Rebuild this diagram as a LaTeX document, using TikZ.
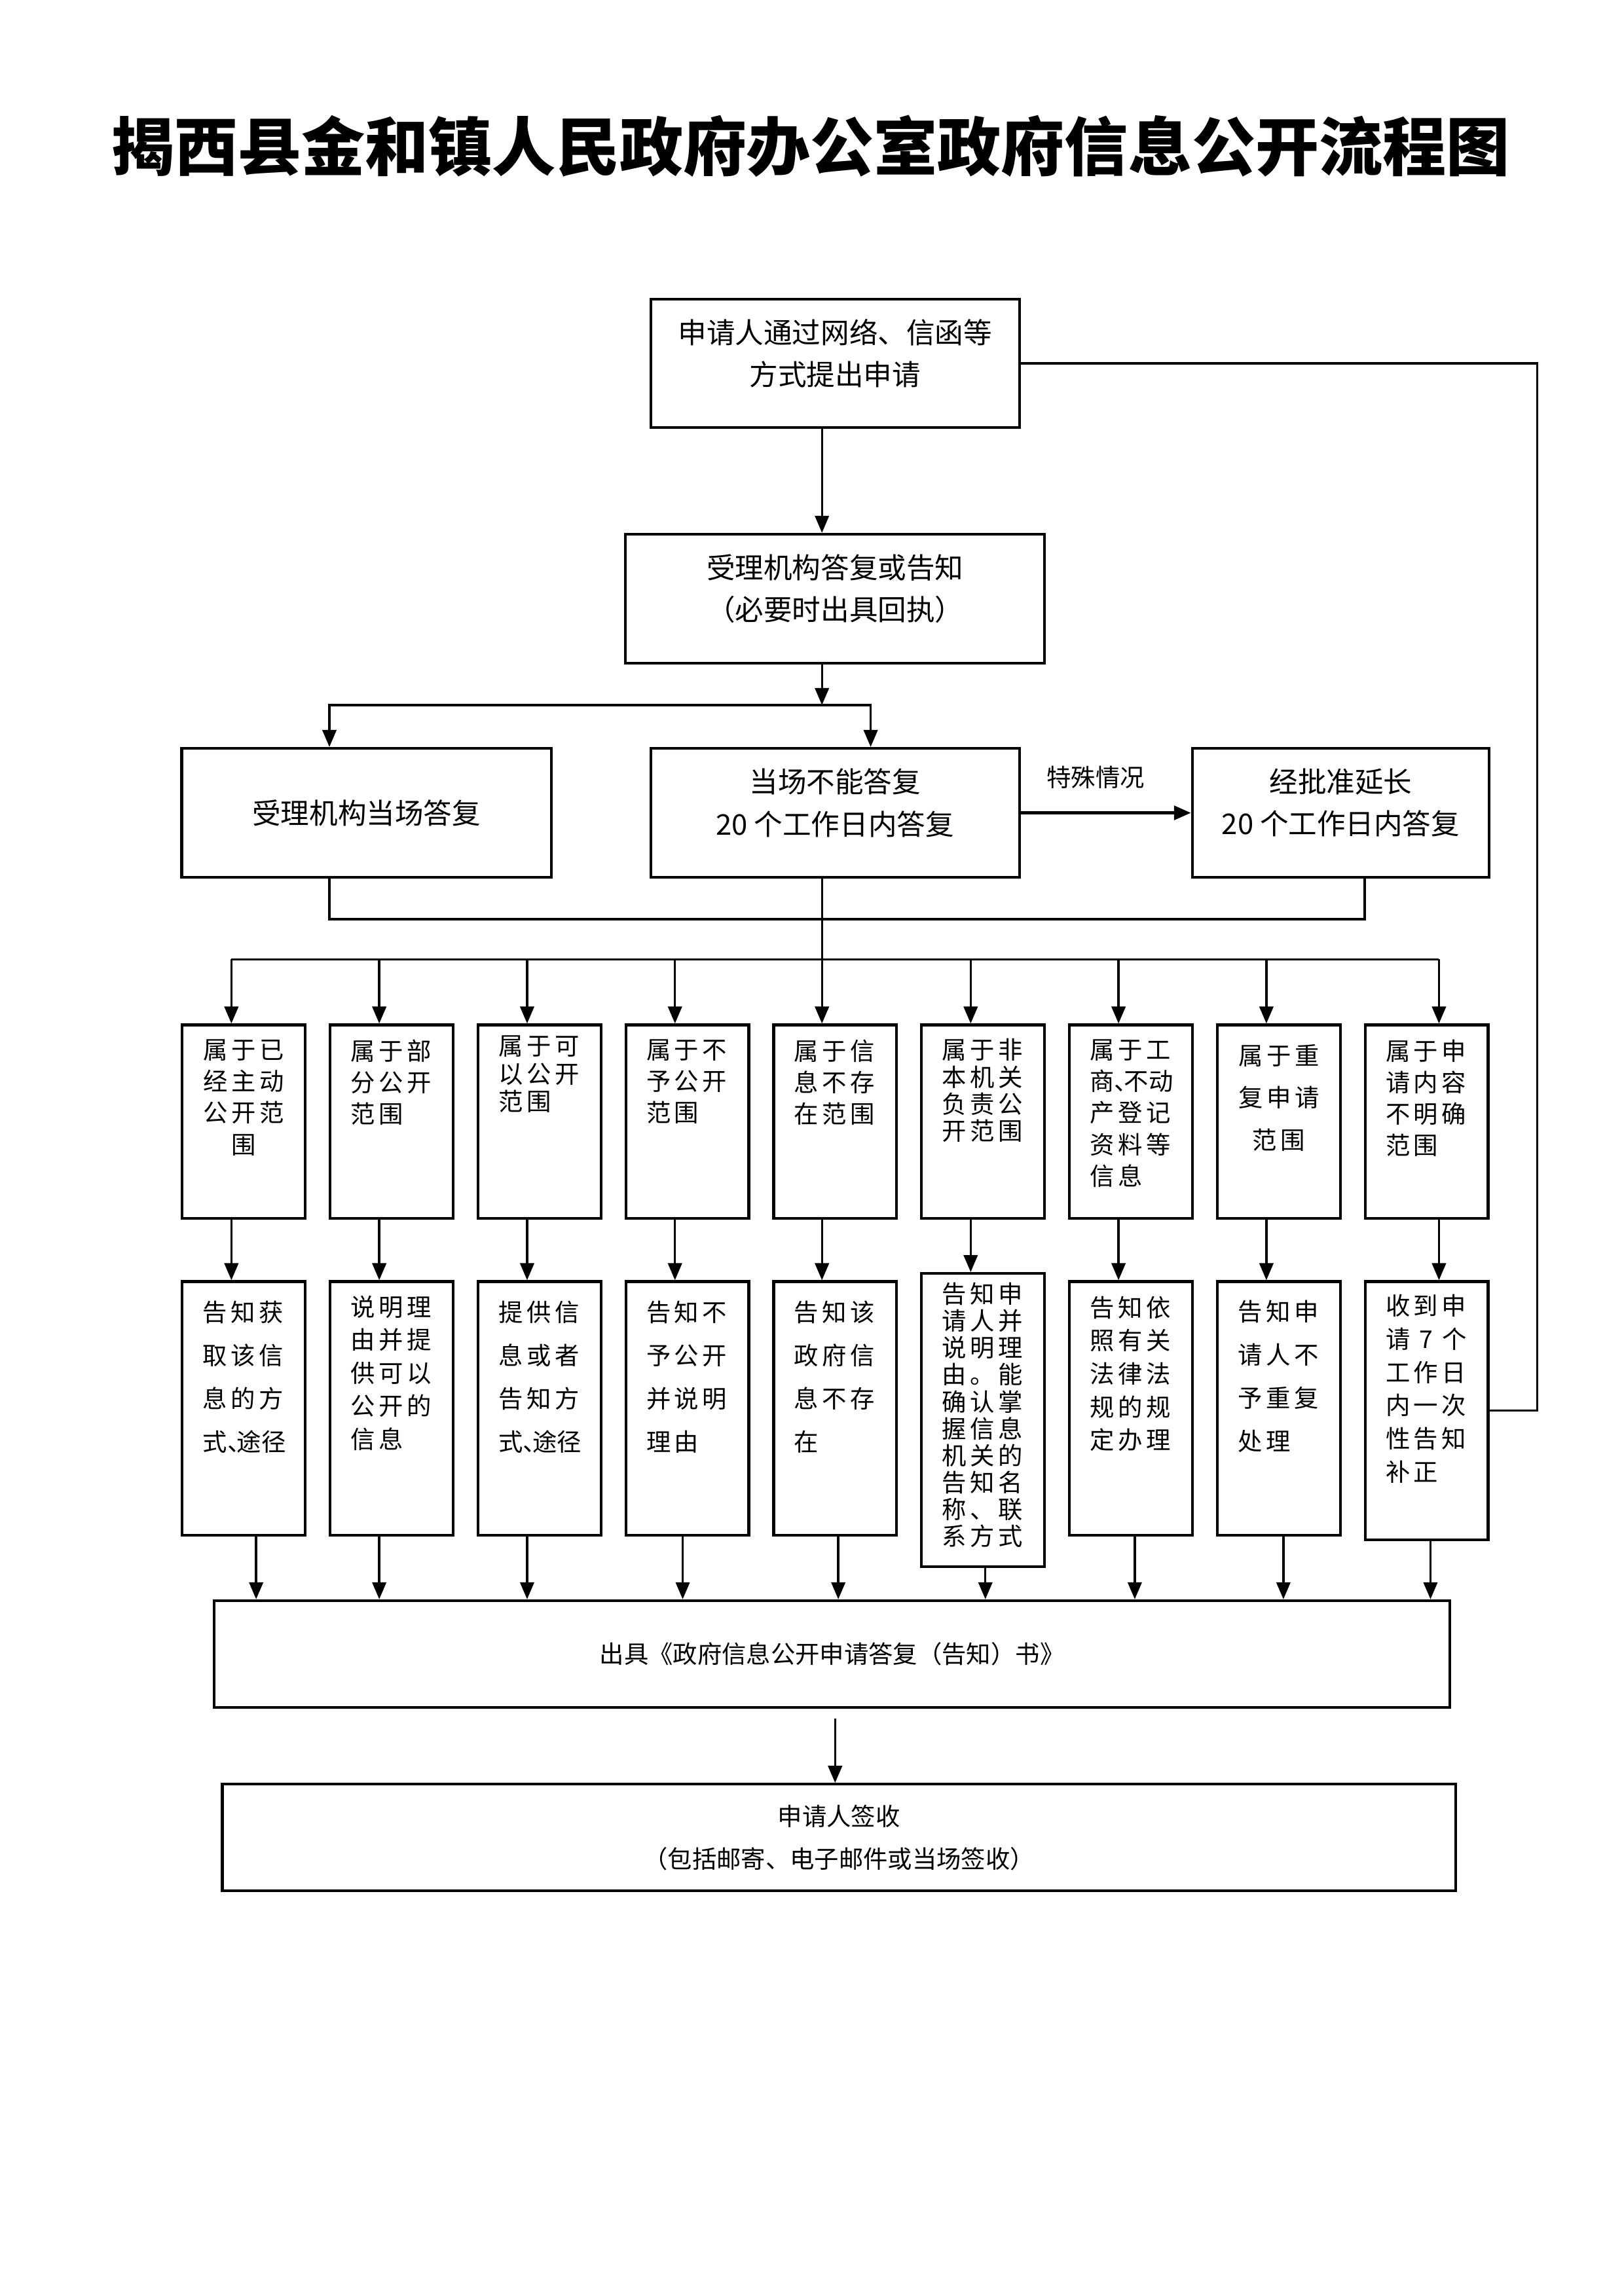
\documentclass[tikz,border=0pt]{standalone}
\usepackage{fontspec}
\setmainfont{Noto Sans CJK SC}
\newfontfamily\wide[LetterSpace=15]{Noto Sans CJK SC}
\usetikzlibrary{positioning,arrows.meta}

% column text: height, top gap, line pitch, lines
\newcommand{\coltxt}[4]{\parbox[c][#1][t]{10.6mm}{\wide\fontsize{9pt}{#3}\selectfont\vspace*{#2}#4}}
\newcommand{\dun}{\makebox[0.4em][l]{、}}
\newcommand{\lift}{\rule[-2.9mm]{0pt}{0pt}}

\tikzset{
    flowbox/.style={draw, line width=1pt, align=center, inner sep=0pt,
        font=\fontsize{10.5pt}{15.5pt}\selectfont},
    colbox/.style={draw, line width=1pt, inner sep=0pt, minimum width=15.9mm},
    arr/.style={-{Triangle[length=2.2mm,width=1.8mm]}, line width=0.8pt}
}

\begin{document}
\begin{tikzpicture}[x=1mm,y=1mm]
    \useasboundingbox (0,0) rectangle (210,297);

    % title
    \node[font=\bfseries\fontsize{23.4pt}{28pt}\selectfont] (title) at (104.8,278.1)
        {揭西县金和镇人民政府办公室政府信息公开流程图};

    % application
    \node[flowbox,
        minimum width=47.7mm,
        minimum height=16.6mm
    ] (apply) at (108,250) {申请人通过网络、信函等\\方式提出申请\lift};

    % acceptance
    \node[flowbox,
        minimum width=54.2mm,
        minimum height=16.7mm
    ] (accept) at (108,219.55) {受理机构答复或告知\\（必要时出具回执）\lift};

    % third row
    \node[flowbox,
        minimum width=47.8mm,
        minimum height=16.7mm
    ] (onsite) at (47.4,191.85) {受理机构当场答复};

    \node[flowbox,
        minimum width=47.7mm,
        minimum height=16.7mm
    ] (later) at (108,191.85) {当场不能答复\\20 个工作日内答复\lift};

    \node[flowbox,
        minimum width=38.4mm,
        minimum height=16.7mm
    ] (extend) at (173.4,191.85) {经批准延长\\20 个工作日内答复\lift};

    % categories
    \node[colbox, anchor=north west] (c1) at (23.4,164.6)
        {\coltxt{25mm}{1.9mm}{11.6pt}{\centering 属于已\\经主动\\公开范\\围}};
    \node[colbox, right=2.87mm of c1] (c2)
        {\coltxt{25mm}{1.9mm}{11.6pt}{属于部\\分公开\\范围}};
    \node[colbox, right=2.87mm of c2] (c3)
        {\coltxt{25mm}{1.4mm}{10.2pt}{属于可\\以公开\\范围}};
    \node[colbox, right=2.87mm of c3] (c4)
        {\coltxt{25mm}{1.9mm}{11.6pt}{属于不\\予公开\\范围}};
    \node[colbox, right=2.87mm of c4] (c5)
        {\coltxt{25mm}{1.9mm}{11.6pt}{属于信\\息不存\\在范围}};
    \node[colbox, right=2.87mm of c5] (c6)
        {\coltxt{25mm}{1.8mm}{9.9pt}{属于非\\本机关\\负责公\\开范围}};
    \node[colbox, right=2.87mm of c6] (c7)
        {\coltxt{25mm}{1.9mm}{11.6pt}{属于工\\{\rmfamily 商\dun 不动}\\产登记\\资料等\\信息}};
    \node[colbox, right=2.87mm of c7] (c8)
        {\coltxt{25mm}{2.5mm}{15.6pt}{\centering 属于重\\复申请\\范围}};
    \node[colbox, right=2.87mm of c8] (c9)
        {\coltxt{25mm}{1.9mm}{11.6pt}{属于申\\请内容\\不明确\\范围}};

    % replies
    \node[colbox, below=7.85mm of c1] (t1)
        {\coltxt{32.8mm}{2.5mm}{15.9pt}{告知获\\取该信\\息的方\\{\rmfamily 式\dun 途径}}};
    \node[colbox, below=7.85mm of c2] (t2)
        {\coltxt{32.8mm}{1.8mm}{12.2pt}{说明理\\由并提\\供可以\\公开的\\信息}};
    \node[colbox, below=7.85mm of c3] (t3)
        {\coltxt{32.8mm}{2.5mm}{15.9pt}{提供信\\息或者\\告知方\\{\rmfamily 式\dun 途径}}};
    \node[colbox, below=7.85mm of c4] (t4)
        {\coltxt{32.8mm}{2.5mm}{15.9pt}{告知不\\予公开\\并说明\\理由}};
    \node[colbox, below=7.85mm of c5] (t5)
        {\coltxt{32.8mm}{2.5mm}{15.9pt}{告知该\\政府信\\息不存\\在}};
    \node[colbox, below=6.8mm of c6] (t6)
        {\coltxt{37.9mm}{1.2mm}{9.9pt}{告知申\\请人并\\说明理\\由。能\\确认掌\\握信息\\机关的\\告知名\\称、联\\系方式}};
    \node[colbox, below=7.85mm of c7] (t7)
        {\coltxt{32.8mm}{1.9mm}{12.2pt}{告知依\\照有关\\法律法\\规的规\\定办理}};
    \node[colbox, below=7.85mm of c8] (t8)
        {\coltxt{32.8mm}{2.4mm}{15.9pt}{告知申\\请人不\\予重复\\处理}};
    \node[colbox, below=7.85mm of c9] (t9)
        {\coltxt{33.4mm}{1.7mm}{12.2pt}{收到申\\请 7 个\\工作日\\内一次\\性告知\\补正}};

    % notice
    \node[flowbox,
        font=\fontsize{9pt}{11pt}\selectfont,
        minimum width=159.8mm,
        minimum height=13.8mm
    ] (done) at (107.6,83.05) {出具《政府信息公开申请答复（告知）书》};

    % signature
    \node[flowbox,
        font=\fontsize{9pt}{15.7pt}\selectfont,
        minimum width=159.5mm,
        minimum height=13.8mm
    ] (sign) at (108.5,59.3) {申请人签收\\（包括邮寄、电子邮件或当场签收）};

    \coordinate (axis) at (106.3,0);
    \coordinate (split) at (106.3,205.8);
    \coordinate (gather) at (106.3,178.1);
    \coordinate (spread) at (106.3,172.9);
    \coordinate (back) at (198.8,0);

    % upper arrows
    \draw[arr] (apply.south -| axis) -- (accept.north -| axis);
    \draw[arr] (accept.south -| axis) -- (split);
    \draw[arr] (split) -| ([xshift=-4.8mm]onsite.north);
    \draw[arr] (split) -| ([xshift=4.6mm]later.north);

    \draw[arr, line width=1.2pt] (later.east) -- (extend.west)
        node[pos=0.44, yshift=4.6mm, font=\fontsize{9pt}{11pt}\selectfont] (special) {特殊情况};

    \draw[line width=0.8pt] ([xshift=-4.8mm]onsite.south) |- (gather)
        -| ([xshift=3.1mm]extend.south);
    \draw[arr] (later.south -| axis) -- (c5.north -| axis);
    \draw[line width=0.8pt] ([xshift=-1.6mm]c1.north |- spread)
        -- ([xshift=1.6mm]c9.north |- spread);

    % into the categories
    \draw[arr] ([xshift=-1.6mm]c1.north |- spread) -- ([xshift=-1.6mm]c1.north);
    \draw[arr] ([xshift=-1.6mm]c2.north |- spread) -- ([xshift=-1.6mm]c2.north);
    \draw[arr] ([xshift=-1.6mm]c3.north |- spread) -- ([xshift=-1.6mm]c3.north);
    \draw[arr] ([xshift=-1.6mm]c4.north |- spread) -- ([xshift=-1.6mm]c4.north);
    \draw[arr] ([xshift=-1.6mm]c6.north |- spread) -- ([xshift=-1.6mm]c6.north);
    \draw[arr] ([xshift=-1.6mm]c7.north |- spread) -- ([xshift=-1.6mm]c7.north);
    \draw[arr] ([xshift=-1.6mm]c8.north |- spread) -- ([xshift=-1.6mm]c8.north);
    \draw[arr] ([xshift=1.6mm]c9.north |- spread) -- ([xshift=1.6mm]c9.north);

    % categories to replies
    \draw[arr] ([xshift=-1.6mm]c1.south) -- ([xshift=-1.6mm]t1.north);
    \draw[arr] ([xshift=-1.6mm]c2.south) -- ([xshift=-1.6mm]t2.north);
    \draw[arr] ([xshift=-1.6mm]c3.south) -- ([xshift=-1.6mm]t3.north);
    \draw[arr] ([xshift=-1.6mm]c4.south) -- ([xshift=-1.6mm]t4.north);
    \draw[arr] (c5.south -| axis) -- (t5.north -| axis);
    \draw[arr] ([xshift=-1.6mm]c6.south) -- ([xshift=-1.6mm]t6.north);
    \draw[arr] ([xshift=-1.6mm]c7.south) -- ([xshift=-1.6mm]t7.north);
    \draw[arr] ([xshift=-1.6mm]c8.south) -- ([xshift=-1.6mm]t8.north);
    \draw[arr] ([xshift=1.6mm]c9.south) -- ([xshift=1.6mm]t9.north);

    % replies to notice
    \draw[arr] ([xshift=1.6mm]t1.south) -- ([xshift=1.6mm]t1.south |- done.north);
    \draw[arr] ([xshift=-1.6mm]t2.south) -- ([xshift=-1.6mm]t2.south |- done.north);
    \draw[arr] ([xshift=-1.6mm]t3.south) -- ([xshift=-1.6mm]t3.south |- done.north);
    \draw[arr] ([xshift=-0.6mm]t4.south) -- ([xshift=-0.6mm]t4.south |- done.north);
    \draw[arr] ([xshift=0.4mm]t5.south) -- ([xshift=0.4mm]t5.south |- done.north);
    \draw[arr] ([xshift=0.3mm]t6.south) -- ([xshift=0.3mm]t6.south |- done.north);
    \draw[arr] ([xshift=0.5mm]t7.south) -- ([xshift=0.5mm]t7.south |- done.north);
    \draw[arr] ([xshift=0.6mm]t8.south) -- ([xshift=0.6mm]t8.south |- done.north);
    \draw[arr] ([xshift=0.5mm]t9.south) -- ([xshift=0.5mm]t9.south |- done.north);

    \draw[arr] ([xshift=0.4mm,yshift=-1.3mm]done.south) -- ([xshift=0.4mm]done.south |- sign.north);

    % back to the applicant
    \draw[line width=0.8pt] (apply.east) -- (apply.east -| back) |- (t9.east);

\end{tikzpicture}
\end{document}
